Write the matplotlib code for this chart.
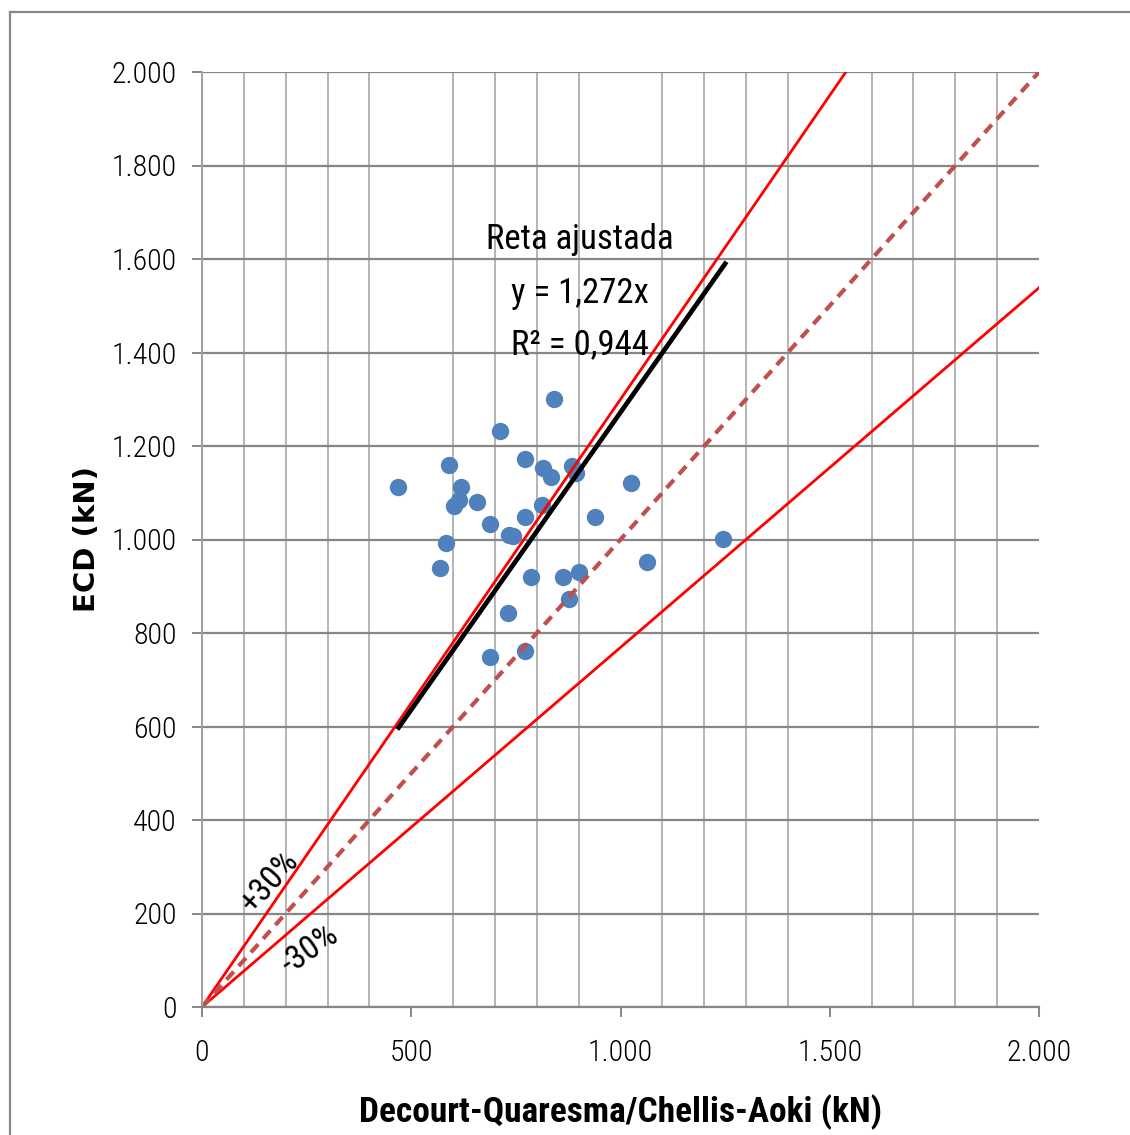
import matplotlib.pyplot as plt
import matplotlib.lines as mlines
import numpy as np

# Pontos medidos (kN): Decourt-Quaresma/Chellis-Aoki x ECD
x_pts = [469, 840, 711, 590, 771, 814, 835, 885, 893, 618, 614, 602, 656, 812,
         1024, 687, 771, 940, 733, 743, 1244, 582, 569, 1064, 785, 862, 900,
         876, 730, 771, 687]
y_pts = [1112, 1300, 1232, 1159, 1172, 1153, 1133, 1158, 1142, 1113, 1085, 1072,
         1080, 1074, 1120, 1033, 1048, 1048, 1010, 1008, 1001, 992, 939, 952,
         920, 920, 930, 873, 843, 761, 749]

fit_slope = 1.272
fit_range = [470, 1250]
band = 1.3
axis_range = [0, 2000]

x_ticks = [0, 500, 1000, 1500, 2000]
y_ticks = [0, 200, 400, 600, 800, 1000, 1200, 1400, 1600, 1800, 2000]


def br(v):
    # separador de milhar com ponto
    return "{:,}".format(int(v)).replace(",", ".")


narrow = ["Roboto Condensed", "Barlow Condensed", "DejaVu Sans"]

fig = plt.figure(figsize=(11.3, 11.35), dpi=100)
ax = fig.add_axes([202 / 1130, 1 - 1007 / 1135, 837 / 1130, 935 / 1135])

# grade
ax.set_xticks(np.arange(0, 2001, 100), minor=True)
ax.grid(which="minor", axis="x", color="#b4b4b4", linewidth=1.4)
ax.grid(which="major", axis="y", color="#878787", linewidth=1.6)
ax.set_axisbelow(True)

xs = np.array(axis_range)
ax.plot(xs, xs * band, color="#ff0000", lw=2)
ax.plot(xs, xs / band, color="#ff0000", lw=2)
ax.plot(xs, xs, color="#c0504d", lw=3, dashes=(2.6, 1.8))
fx = np.array(fit_range)
ax.plot(fx, fx * fit_slope, color="black", lw=3.4)

ax.plot(x_pts, y_pts, "o", color="#4f81bd", ms=12.5, mec="none", zorder=1.5)

ax.set_xlim(0, 2000)
ax.set_ylim(0, 2000)
ax.set_xticks(x_ticks)
ax.set_yticks(y_ticks)
ax.set_xticklabels([br(v) for v in x_ticks], family=narrow, fontsize=21.5,
                   fontweight=300)
ax.set_yticklabels([br(v) for v in y_ticks], family=narrow, fontsize=21.5,
                   fontweight=300)
ax.tick_params(axis="x", which="major", length=7, width=1.4, color="#878787",
               direction="out", pad=16)
ax.tick_params(axis="x", which="minor", length=0)
ax.tick_params(axis="y", length=7, width=1.4, color="#878787", direction="out",
               pad=11)
for s in ["top", "right"]:
    ax.spines[s].set_visible(False)
ax.spines["left"].set_color("#a0a0a0")
ax.spines["left"].set_linewidth(1.4)
ax.spines["bottom"].set_color("#878787")
ax.spines["bottom"].set_linewidth(1.6)

ax.set_xlabel("Decourt-Quaresma/Chellis-Aoki (kN)", family=narrow,
              fontweight="bold", fontsize=25.5, labelpad=20)
ax.set_ylabel("ECD (kN)", family="DejaVu Sans", fontweight="bold",
              fontsize=21, labelpad=8)

ax.text(902, 1641, "Reta ajustada", family=narrow, fontsize=25,
        ha="center", va="center")
ax.text(902, 1527, "y = 1,272x", family=narrow, fontsize=25,
        ha="center", va="center")
ax.text(902, 1416, "R\u00b2 = 0,944", family=narrow, fontsize=25,
        ha="center", va="center")
ax.text(162, 267, "+30%", family=narrow, fontsize=24, rotation=48,
        ha="center", va="center")
ax.text(258, 122, "-30%", family=narrow, fontsize=24, rotation=35,
        ha="center", va="center")

# moldura externa
fig.add_artist(mlines.Line2D([9.5 / 1130, 9.5 / 1130], [0, 1 - 12 / 1135],
                             transform=fig.transFigure, color="#888888", lw=1.6))
fig.add_artist(mlines.Line2D([9.5 / 1130, 1], [1 - 12 / 1135, 1 - 12 / 1135],
                             transform=fig.transFigure, color="#888888", lw=1.6))

fig.savefig("out.png", dpi=100)
